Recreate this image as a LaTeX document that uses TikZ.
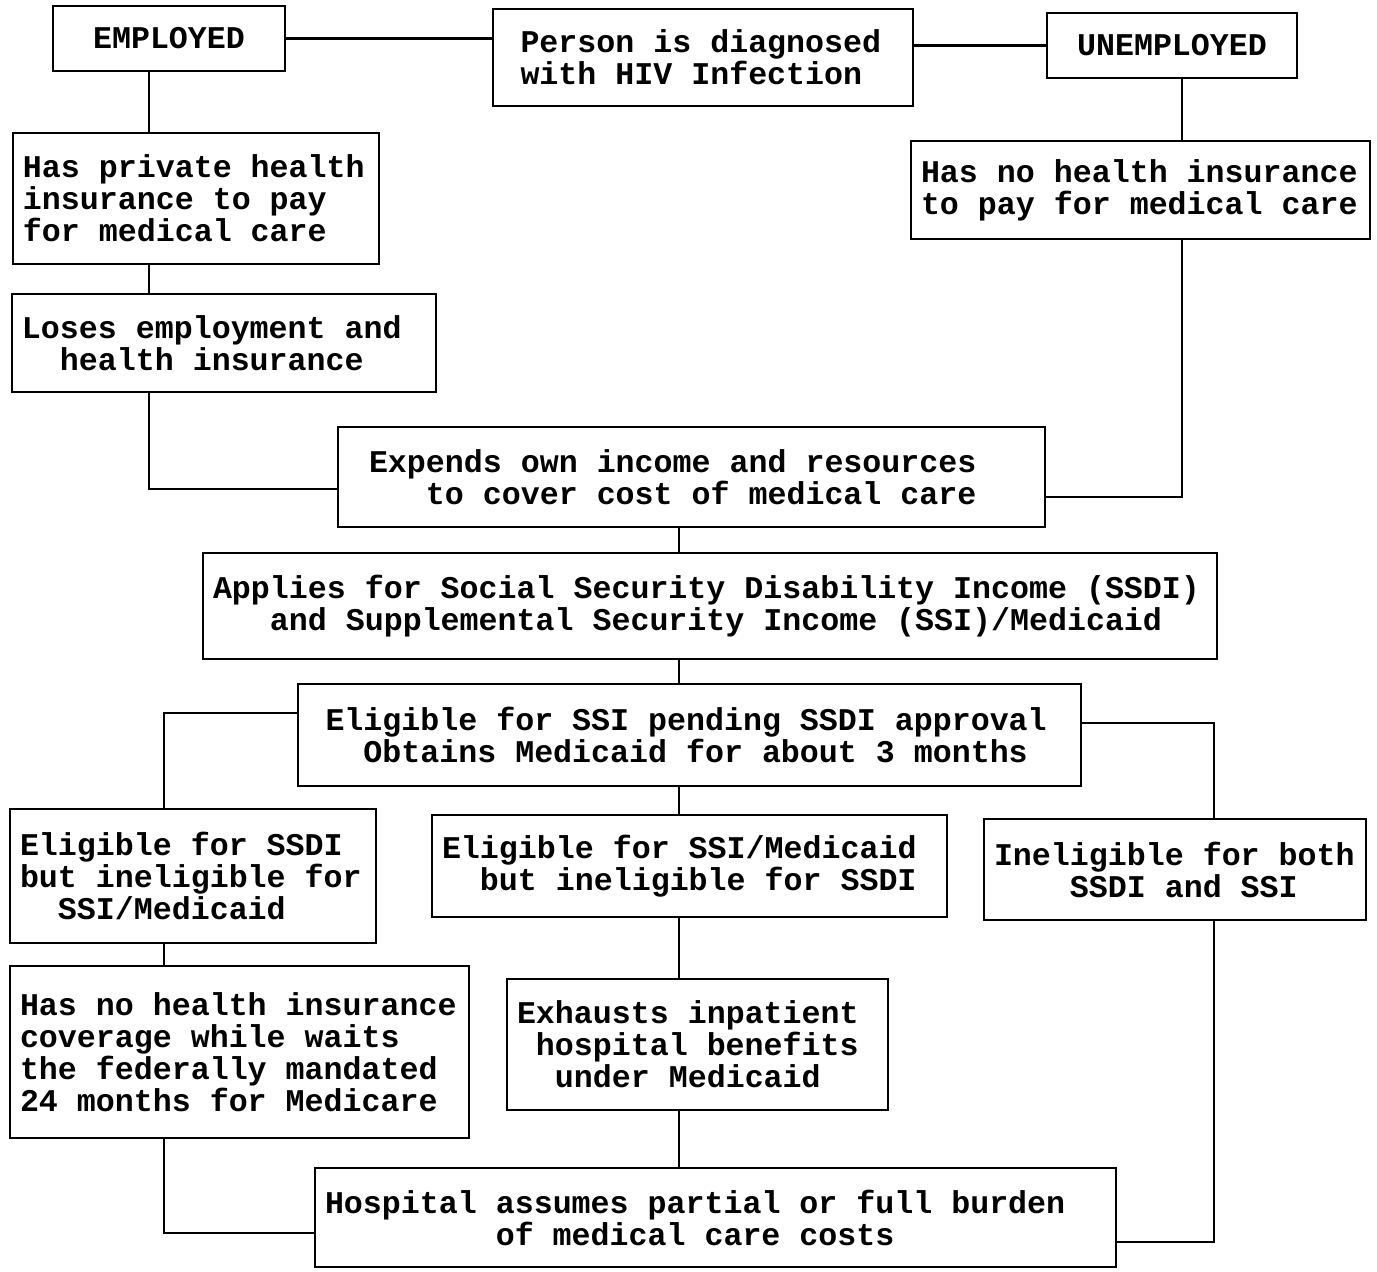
\documentclass[tikz,border=0pt]{standalone}
\usepackage{fontspec}
\setmonofont{Liberation Mono}
\usepackage{tikz}
\usetikzlibrary{positioning, calc}
\tikzset{
  link/.style={line width=1.3pt}
}

\begin{document}
\begin{tikzpicture}[
            box/.style={rectangle, draw=black, line width=1.3pt, outer sep=0pt, inner xsep=0.2cm, inner ysep=0.2cm, align=left, font=\ttfamily\bfseries\fontsize{18pt}{18.2pt}\selectfont, execute at begin node={\spaceskip=10.8pt\xspaceskip=10.8pt}},
            link/.style={line width=1.3pt}]

            \path [use as bounding box] (0,0) rectangle (27.54,-25.42);

            % --- Fila superior ---
            \node (person) [box, inner xsep=0.55cm, text width=7.30cm, minimum height=1.94cm] at (14.06,-1.15) {Person is diagnosed\\with HIV Infection};
            \node (employed) [box, align=center, minimum width=4.64cm, minimum height=1.30cm, left=4.16cm of person, yshift=0.38cm] {EMPLOYED};
            \node (unemployed) [box, align=center, minimum width=5.00cm, minimum height=1.30cm, right=2.68cm of person, yshift=0.24cm] {UNEMPLOYED};

            % --- Columna izquierda ---
            \node (private) [box, text width=6.92cm, minimum height=2.62cm, below=1.24cm of employed, xshift=0.54cm] {Has private health\\insurance to pay\\for medical care};
            \node (loses) [box, text width=8.08cm, minimum height=1.96cm, below=0.60cm of private, xshift=0.56cm] {Loses employment and\\\hspace*{1.2em}health insurance};

            % --- Columna derecha ---
            \node (noins) [box, text width=8.78cm, minimum height=1.96cm, below=1.26cm of unemployed, xshift=-0.63cm] {Has no health insurance\\to pay for medical care};

            % --- Columna central ---
            \node (expends) [box, inner xsep=0.62cm, text width=12.90cm, minimum height=2.00cm, below=6.42cm of person, xshift=-0.23cm] {Expends own income and resources\\\hspace*{1.8em}to cover cost of medical care};
            \node (applies) [box, text width=19.88cm, minimum height=2.12cm, below=0.52cm of expends, xshift=0.37cm] {Applies for Social Security Disability Income (SSDI)\\\hspace*{1.8em}and Supplemental Security Income (SSI)/Medicaid};
            \node (pending) [box, inner xsep=0.55cm, text width=14.56cm, minimum height=2.04cm, below=0.50cm of applies, xshift=-0.41cm] {Eligible for SSI pending SSDI approval\\\hspace*{1.2em}Obtains Medicaid for about 3 months};

            % --- Tres ramas ---
            \node (ssimed) [box, text width=9.90cm, minimum height=2.04cm, below=0.58cm of pending] {Eligible for SSI/Medicaid\\\hspace*{1.2em}but ineligible for SSDI};
            \node (ssdi) [box, text width=6.92cm, minimum height=2.68cm, left=1.12cm of ssimed, yshift=-0.20cm] {Eligible for SSDI\\but ineligible for\\\hspace*{1.2em}SSI/Medicaid};
            \node (inelig) [box, text width=7.24cm, minimum height=2.02cm, right=0.74cm of ssimed, yshift=-0.07cm] {Ineligible for both\\\hspace*{2.4em}SSDI and SSI};
            \node (nocov) [box, text width=8.78cm, minimum height=3.44cm, below=0.46cm of ssdi, xshift=0.93cm] {Has no health insurance\\coverage while waits\\the federally mandated\\24 months for Medicare};
            \node (exhausts) [box, text width=7.22cm, minimum height=2.62cm, below=1.24cm of ssimed, xshift=0.16cm] {Exhausts inpatient\\\hspace*{0.6em}hospital benefits\\\hspace*{1.2em}under Medicaid};
            \node (hospital) [box, text width=15.62cm, minimum height=1.98cm, below=1.16cm of exhausts, xshift=0.36cm] {Hospital assumes partial or full burden\\\hspace*{5.4em}of medical care costs};

            % --- Ejes de las lineas ---
            \coordinate (lspine) at ([xshift=-0.40cm]employed.south);
            \coordinate (rspine) at ([xshift=0.20cm]unemployed.south);
            \coordinate (cspine) at ([xshift=-0.21cm]pending.south);
            \coordinate (llspine) at ([xshift=-0.58cm]ssdi.north);
            \coordinate (rrspine) at ([xshift=0.78cm]inelig.north);

            % --- Conexiones ---
            \draw [link] (employed.east) -- (employed.east -| person.west);
            \draw [link] (person.east |- unemployed.west) -- (unemployed.west);
            \draw [link] (employed.south -| lspine) -- (private.north -| lspine);
            \draw [link] (private.south -| lspine) -- (loses.north -| lspine);
            \draw [link] (loses.south -| lspine) |- ([yshift=-0.24cm]expends.west);
            \draw [link] (unemployed.south -| rspine) -- (noins.north -| rspine);
            \draw [link] (noins.south -| rspine) |- ([yshift=-0.40cm]expends.east);
            \draw [link] (expends.south -| cspine) -- (applies.north -| cspine);
            \draw [link] (applies.south -| cspine) -- (pending.north -| cspine);
            \draw [link] ([yshift=0.44cm]pending.west) -| (ssdi.north -| llspine);
            \draw [link] ([yshift=0.24cm]pending.east) -| (inelig.north -| rrspine);
            \draw [link] (pending.south -| cspine) -- (ssimed.north -| cspine);
            \draw [link] (ssdi.south -| llspine) -- (nocov.north -| llspine);
            \draw [link] (ssimed.south -| cspine) -- (exhausts.north -| cspine);
            \draw [link] (exhausts.south -| cspine) -- (hospital.north -| cspine);
            \draw [link] (nocov.south -| llspine) |- ([yshift=-0.31cm]hospital.west);
            \draw [link] (inelig.south -| rrspine) |- ([yshift=-0.49cm]hospital.east);

        \end{tikzpicture}
\end{document}
